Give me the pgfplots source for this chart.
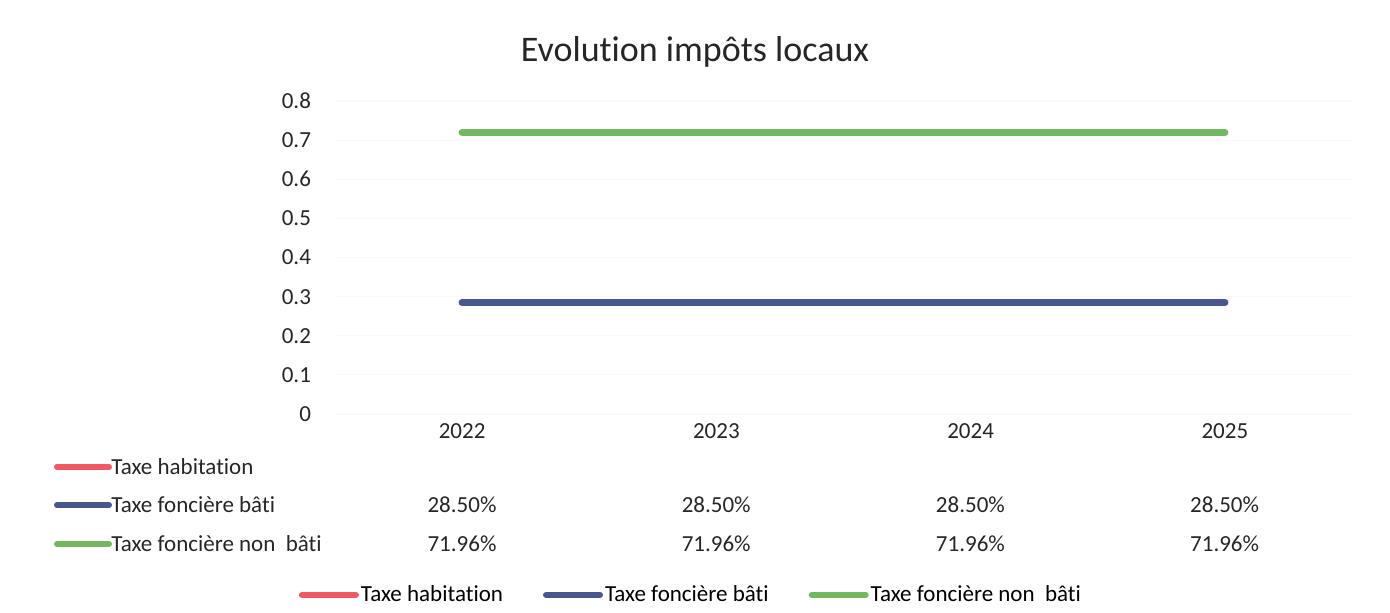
\documentclass[border=0pt]{standalone}
\usepackage{pgfplots}
\pgfplotsset{compat=1.18}
\usepackage{fontspec}
\setmainfont{Carlito}[RawFeature={-liga}]
\definecolor{cred}{RGB}{240,88,100}
\definecolor{cblue}{RGB}{72,88,140}
\definecolor{cgreen}{RGB}{114,184,96}
\begin{document}
\begin{tikzpicture}
\useasboundingbox (-167.5pt,-99pt) rectangle (527.5pt,207pt);
\begin{axis}[
  at={(0,0)}, anchor=south west,
  scale only axis, width=508.5pt, height=156.5pt,
  xmin=-0.5, xmax=3.5, ymin=0, ymax=0.8,
  axis line style={draw=none},
  major tick length=0pt,
  xtick={0,1,2,3}, xticklabels={2022,2023,2024,2025},
  ytick={0,0.1,...,0.8},
  yticklabels={0,0.1,0.2,0.3,0.4,0.5,0.6,0.7,0.8},
  ymajorgrids, grid style={gray!5, line width=0.6pt},
  tick label style={font=\fontsize{11.5}{13}\selectfont, text=black!85},
  yticklabel style={xshift=-8.5pt},
  xticklabel style={yshift=-1pt},
  clip=false,
  legend columns=3,
  legend style={draw=none, fill=none, at={(rel axis cs:0.35,-0.578)}, anchor=center,
    font=\fontsize{11.5}{13}\selectfont, inner sep=0pt,
    /tikz/every even column/.append style={column sep=19pt},
    nodes={inner xsep=1pt}},
  legend image code/.code={\draw[#1, line width=3pt, line cap=round] (0pt,0pt) -- (27pt,0pt);},
]
\addlegendimage{cred}
\addlegendentry{Taxe habitation}
\addplot[cblue, line width=3.6pt, line cap=round] coordinates {(0,0.285) (1,0.285) (2,0.285) (3,0.285)};
\addlegendentry{Taxe foncière bâti}
\addplot[cgreen, line width=3.6pt, line cap=round] coordinates {(0,0.7196) (1,0.7196) (2,0.7196) (3,0.7196)};
\addlegendentry{Taxe foncière non\ \ bâti}
\end{axis}
% title
\node[font=\fontsize{18}{21}\selectfont, text=black!85] at (180pt,181pt) {Evolution impôts locaux};
% data table
\begin{scope}[every node/.style={font=\fontsize{11.5}{13}\selectfont, text=black!85}]
\draw[cred, line width=3pt, line cap=round] (-139pt,-26.5pt) -- (-113pt,-26.5pt);
\node[anchor=west, inner sep=0pt] at (-112pt,-26.5pt) {Taxe habitation};
\draw[cblue, line width=3pt, line cap=round] (-139pt,-45.5pt) -- (-113pt,-45.5pt);
\node[anchor=west, inner sep=0pt] at (-112pt,-45.5pt) {Taxe foncière bâti};
\draw[cgreen, line width=3pt, line cap=round] (-139pt,-65pt) -- (-113pt,-65pt);
\node[anchor=west, inner sep=0pt] at (-112pt,-65pt) {Taxe foncière non\ \ bâti};
\foreach \i in {0,1,2,3}{
  \node at ({63.5pt+127.1pt*\i},-45.5pt) {28.50\%};
  \node at ({63.5pt+127.1pt*\i},-65pt) {71.96\%};
}
\end{scope}
\end{tikzpicture}
\end{document}
